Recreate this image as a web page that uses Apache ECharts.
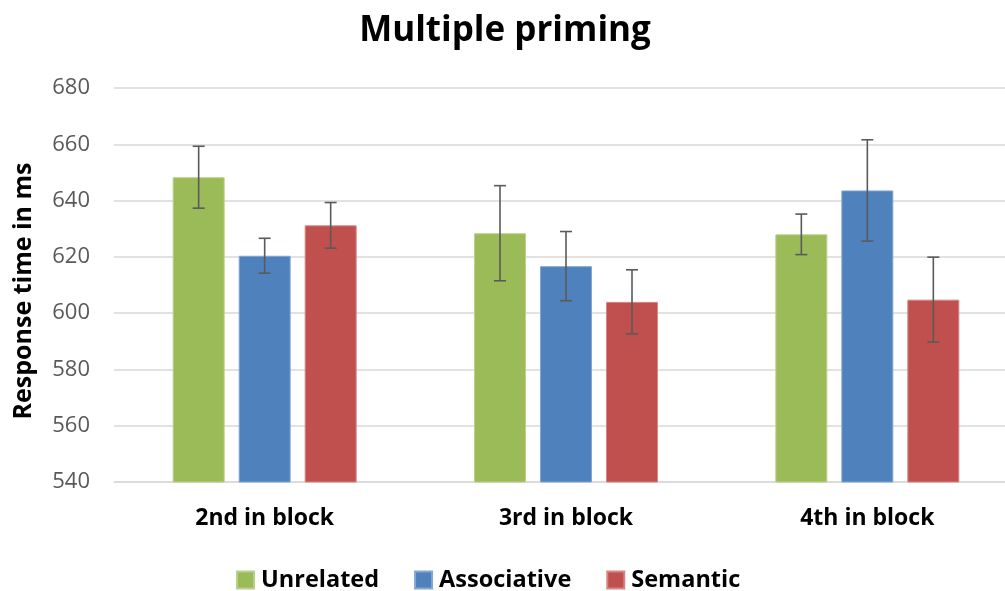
<!DOCTYPE html>
<html>
<head>
<meta charset="utf-8">
<script src="https://cdn.jsdelivr.net/npm/echarts@6/dist/echarts.min.js"></script>
<style>
  html, body { margin: 0; padding: 0; background: #ffffff; overflow: hidden; }
  #chart { width: 1018px; height: 591px; }
</style>
</head>
<body>
<div id="chart"></div>
<script>
// Mean response times (ms) per block position
const categories = ['2nd in block', '3rd in block', '4th in block'];
const unrelated   = [648.3, 628.4, 628.0];
const associative = [620.4, 616.7, 643.6];
const semantic    = [631.2, 604.0, 604.8];
// Error bar half-widths (ms)
const unrelatedErr   = [11.0, 16.9, 7.2];
const associativeErr = [6.2, 12.3, 18.0];
const semanticErr    = [8.1, 11.4, 15.1];

const seriesNames = ['Unrelated', 'Associative', 'Semantic'];
const chartTitle = 'Multiple priming';
const yTitle = 'Response time in ms';

const colors = ['#9BBB59', '#4F81BD', '#C0504D'];
const borderColors = ['#B9D08A', '#85A7D3', '#D48683'];

const BAR_W = 52;
const BAR_GAP = 14;

const fontFamily = '"Open Sans", "Noto Sans", "DejaVu Sans", sans-serif';

function barSeries(name, values, idx) {
  return {
    name: name,
    type: 'bar',
    data: values,
    barWidth: BAR_W,
    barGap: (BAR_GAP / BAR_W * 100).toFixed(2) + '%',
    itemStyle: { color: colors[idx], borderColor: borderColors[idx], borderWidth: 1 },
    z: 2
  };
}

// Whiskers drawn with a custom series, shifted to sit over each bar
function errorSeries(values, errs, idx) {
  const data = values.map((v, i) => [i, v - errs[i], v + errs[i]]);
  const shift = (idx - 1) * (BAR_W + BAR_GAP);
  return {
    type: 'custom',
    name: seriesNames[idx] + ' error',
    data: data,
    z: 5,
    silent: true,
    encode: { x: 0, y: [1, 2] },
    renderItem: function (params, api) {
      const lo = api.coord([api.value(0), api.value(1)]);
      const hi = api.coord([api.value(0), api.value(2)]);
      const x = lo[0] + shift;
      const cap = 6;
      const style = { stroke: '#5A5A5A', lineWidth: 1.6, fill: null };
      return {
        type: 'group',
        children: [
          { type: 'line', shape: { x1: x, y1: lo[1], x2: x, y2: hi[1] }, style: style },
          { type: 'line', shape: { x1: x - cap, y1: lo[1], x2: x + cap, y2: lo[1] }, style: style },
          { type: 'line', shape: { x1: x - cap, y1: hi[1], x2: x + cap, y2: hi[1] }, style: style }
        ]
      };
    }
  };
}

const chart = echarts.init(document.getElementById('chart'), null, { renderer: 'canvas' });

chart.setOption({
  animation: false,
  backgroundColor: '#ffffff',
  graphic: [
    {
      type: 'text',
      x: 505,
      y: 31,
      style: {
        text: chartTitle,
        fontFamily: fontFamily, fontWeight: 'bold', fontSize: 35, fill: '#000000',
        textAlign: 'center', textVerticalAlign: 'middle'
      }
    },
    {
      type: 'text',
      x: 24,
      y: 291,
      rotation: Math.PI / 2,
      style: {
        text: yTitle,
        fontFamily: fontFamily, fontWeight: 'bold', fontSize: 25, fill: '#000000',
        textAlign: 'center', textVerticalAlign: 'middle'
      }
    }
  ],
  legend: {
    data: seriesNames,
    top: 565,
    left: 236,
    padding: 0,
    itemWidth: 17,
    itemHeight: 17,
    itemGap: 35,
    icon: 'rect',
    textStyle: { fontFamily: fontFamily, fontWeight: 'bold', fontSize: 23.5, lineHeight: 30, color: '#000000', padding: [0, 0, 0, 2] }
  },
  grid: { left: 114, top: 88, right: 0, height: 394, containLabel: false },
  xAxis: {
    type: 'category',
    data: categories,
    axisLine: { show: true, lineStyle: { color: '#D9D9D9', width: 1.5 } },
    axisTick: { show: false },
    axisLabel: { fontFamily: fontFamily, fontWeight: 'bold', fontSize: 23, color: '#000000', margin: 25 }
  },
  yAxis: {
    type: 'value',
    min: 540,
    max: 680,
    interval: 20,
    axisLine: { show: false },
    axisTick: { show: false },
    axisLabel: { fontFamily: fontFamily, fontSize: 22, color: '#595959', margin: 24 },
    splitLine: { lineStyle: { color: '#D9D9D9', width: 1.5 } }
  },
  series: [
    barSeries(seriesNames[0], unrelated, 0),
    barSeries(seriesNames[1], associative, 1),
    barSeries(seriesNames[2], semantic, 2),
    errorSeries(unrelated, unrelatedErr, 0),
    errorSeries(associative, associativeErr, 1),
    errorSeries(semantic, semanticErr, 2)
  ]
});
</script>
</body>
</html>
